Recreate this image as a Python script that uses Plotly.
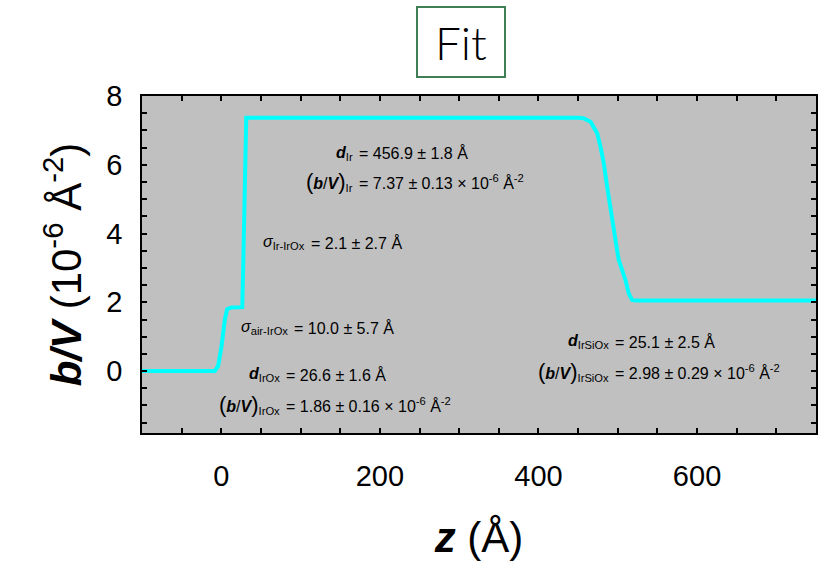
import plotly.graph_objects as go

# SLD profile
z = [-100, -8.2, -4, 0.25, 4.4, 7.3, 12.8, 26.5, 27.5, 28.5, 29.5, 30.5, 31.5,
     450.9, 457.2, 465.7, 469.8, 474, 478.2, 482.4, 486.6, 490.8, 495, 499.1,
     501.3, 505.4, 509.7, 513.8, 518, 522.2, 750]
sld = [0.0, 0.0, 0.15, 0.71, 1.49, 1.8, 1.85, 1.86, 2.9, 4.5, 6.1, 7.2, 7.37,
       7.37, 7.35, 7.25, 7.11, 6.92, 6.53, 6.04, 5.36, 4.69, 4.01, 3.52,
       3.23, 2.94, 2.65, 2.26, 2.07, 2.05, 2.05]

x_ticks = [0, 200, 400, 600]
y_ticks = [0, 2, 4, 6, 8]

FONT = "Liberation Sans, Arial, sans-serif"
P = "<span style='font-size:22px'>(</span>"
Q = "<span style='font-size:22px'>)</span>"
BV = P + "<b><i>b</i></b>/<b><i>V</i></b>" + Q

# (label, value, x of '=', y)
labels = [
    ("<b><i>d</i></b><sub>Ir</sub>", "= 456.9 ± 1.8 Å", 171.7, 6.34),
    (BV + "<sub>Ir</sub>", "= 7.37 ± 0.13 × 10<sup>-6</sup> Å<sup>-2</sup>", 171.7, 5.5),
    ("<i>σ</i><sub>Ir-IrOx</sub>", "= 2.1 ± 2.7 Å", 111.0, 3.73),
    ("<i>σ</i><sub>air-IrOx</sub>", "= 10.0 ± 5.7 Å", 88.7, 1.26),
    ("<b><i>d</i></b><sub>IrOx</sub>", "= 26.6 ± 1.6 Å", 78.6, -0.11),
    (BV + "<sub>IrOx</sub>", "= 1.86 ± 0.16 × 10<sup>-6</sup> Å<sup>-2</sup>", 78.6, -0.98),
    ("<b><i>d</i></b><sub>IrSiOx</sub>", "= 25.1 ± 2.5 Å", 493.7, 0.85),
    (BV + "<sub>IrSiOx</sub>", "= 2.98 ± 0.29 × 10<sup>-6</sup> Å<sup>-2</sup>", 493.7, -0.02),
]

fig = go.Figure()
fig.add_trace(go.Scatter(x=z, y=sld, mode="lines",
                         line=dict(color="#00FFFF", width=4), showlegend=False))

ann = []
for lab, val, xe, ye in labels:
    ann.append(dict(x=xe, y=ye, xref="x", yref="y", text=lab, showarrow=False,
                    xanchor="right", yanchor="middle", xshift=-2,
                    font=dict(family=FONT, size=16, color="black")))
    ann.append(dict(x=xe, y=ye, xref="x", yref="y", text=val, showarrow=False,
                    xanchor="left", yanchor="middle", xshift=0,
                    font=dict(family=FONT, size=16, color="black")))

ann.append(dict(x=0.473, y=1.16, xref="paper", yref="paper", text="Fit",
                showarrow=False, xanchor="center", yanchor="middle",
                width=86, height=68,
                font=dict(family="Lato, sans-serif", size=46, color="black", weight=300),
                bordercolor="#3f7f55", borderwidth=2, borderpad=0,
                bgcolor="white"))

fig.update_layout(
    width=830, height=570,
    margin=dict(l=142, r=12, t=96, b=137),
    paper_bgcolor="white", plot_bgcolor="#C0C0C0",
    font=dict(family=FONT, color="black"),
    annotations=ann,
)
fig.update_xaxes(
    range=[-100, 750], tickvals=x_ticks, ticks="inside", ticklen=5, tickwidth=1.5,
    tickcolor="black", showline=True, linecolor="black", linewidth=1.5,
    mirror="allticks", showgrid=False, zeroline=False,
    tickfont=dict(size=29, family=FONT), ticklabelstandoff=16,
    minor=dict(dtick=50, ticks="inside", ticklen=5, tickwidth=1.5, tickcolor="black", showgrid=False),
    title=dict(text="<b><i>z</i></b> (Å)", font=dict(size=42, family=FONT), standoff=32),
)
fig.update_yaxes(
    range=[-1.8, 8], tickvals=y_ticks, ticks="inside", ticklen=5, tickwidth=1.5,
    tickcolor="black", showline=True, linecolor="black", linewidth=1.5,
    mirror="allticks", showgrid=False, zeroline=False,
    tickfont=dict(size=29, family=FONT), ticklabelstandoff=12,
    minor=dict(dtick=0.5, ticks="inside", ticklen=5, tickwidth=1.5, tickcolor="black", showgrid=False),
    title=dict(text="<b><i>b/V</i></b> (10<sup>-6</sup> Å<sup>-2</sup>)", font=dict(size=42, family=FONT), standoff=12),
)

fig.write_html("out.html")
